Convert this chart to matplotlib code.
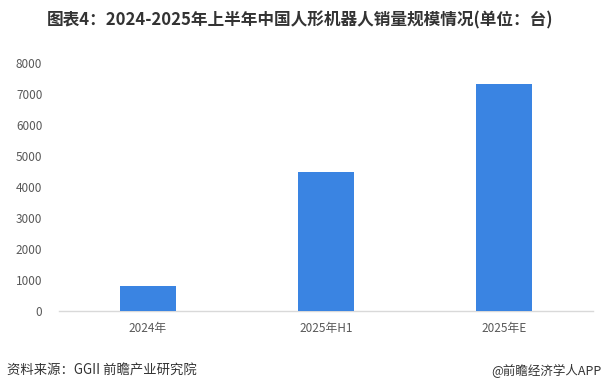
import matplotlib
matplotlib.use("Agg")
import matplotlib.pyplot as plt

plt.rcParams['font.family'] = ['Noto Sans CJK SC', 'DejaVu Sans']

# 数据
categories = ["2024年", "2025年H1", "2025年E"]
sales = [800, 4480, 7310]
yticks = [0, 1000, 2000, 3000, 4000, 5000, 6000, 7000, 8000]

fig = plt.figure(figsize=(6.04, 3.89), dpi=100)
ax = fig.add_axes([59/604, 1 - 311/389, 534/604, (311 - 62.7)/389])

x = range(len(categories))
ax.bar(x, sales, width=0.315, color='#3A84E2', zorder=3)

ax.set_xlim(-0.5, len(categories) - 0.5)
ax.set_ylim(0, 8000)
ax.set_yticks(yticks)
ax.set_xticks(list(x))
ax.set_xticklabels(categories)

for s in ['top', 'right', 'left']:
    ax.spines[s].set_visible(False)
ax.spines['bottom'].set_color('#D9D9D9')
ax.spines['bottom'].set_linewidth(1.0)
ax.tick_params(axis='both', length=0, labelsize=8.5, colors='#595959')
ax.tick_params(axis='y', pad=12)
ax.tick_params(axis='x', pad=8)

fig.text(300.5/604, 1 - 20/389, "图表4：2024-2025年上半年中国人形机器人销量规模情况(单位：台)",
         ha='center', va='center', fontsize=12, fontweight='bold', color='#333333')
fig.text(7/604, 1 - 371/389, "资料来源：GGII 前瞻产业研究院", ha='left', va='center',
         fontsize=9.6, color='#333333')
fig.text(601/604, 1 - 371/389, "@前瞻经济学人APP", ha='right', va='center',
         fontsize=9, color='#333333')

fig.savefig("out.png", dpi=100)
